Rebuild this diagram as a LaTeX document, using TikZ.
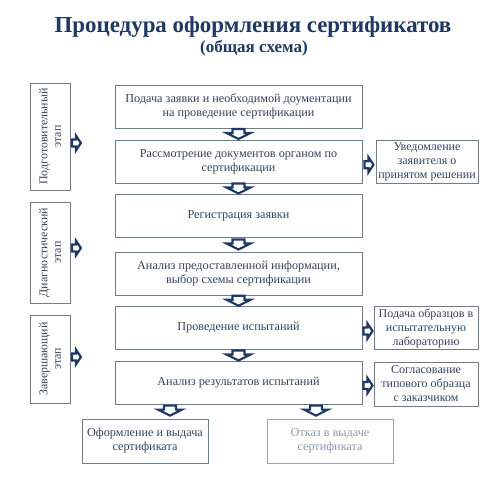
\documentclass[tikz,border=0pt]{standalone}
\usepackage{fontspec}
\setmainfont{Liberation Serif}
\usetikzlibrary{calc}
\definecolor{navy}{HTML}{1F3864}
\definecolor{txt}{HTML}{33445C}
\definecolor{edge}{HTML}{6E7F8C}
\definecolor{fadetxt}{HTML}{8C98AA}
\definecolor{fadeedge}{HTML}{9AA4AE}
\tikzset{
  mainbox/.style={draw=edge, line width=0.8pt, fill=white, text=txt, minimum width=247pt, minimum height=43pt, align=center, font=\fontsize{12.2}{14}\selectfont, inner sep=2pt},
  sidebox/.style={draw=edge, line width=0.8pt, fill=white, text=txt, minimum width=104pt, minimum height=43pt, align=center, font=\fontsize{12}{14}\selectfont, inner sep=1pt},
  endbox/.style={draw=edge, line width=0.8pt, fill=white, text=txt, minimum width=126pt, minimum height=44pt, align=center, font=\fontsize{12.2}{14}\selectfont, inner sep=2pt},
  stagebox/.style={draw=edge, line width=0.8pt, fill=white, text=txt, minimum height=40pt, rotate=90, align=center, font=\fontsize{11.9}{13.5}\selectfont, inner sep=1pt},
  darrow/.pic={\draw[draw=navy, fill=white, line width=2.2pt, line join=miter] (-6,-5) -- (6,-5) -- (6,-1) -- (12,-1) -- (0,5) -- (-12,-1) -- (-6,-1) -- cycle;},
  rarrow/.pic={\draw[draw=navy, fill=white, line width=2.2pt, line join=miter] (-4.5,-3.5) -- (-0.5,-3.5) -- (-0.5,-7.5) -- (4.5,0) -- (-0.5,7.5) -- (-0.5,3.5) -- (-4.5,3.5) -- cycle;}
}
\begin{document}
\begin{tikzpicture}[x=1pt,y=-1pt]
\useasboundingbox (0,0) rectangle (500,488);
\fill[white] (0,0) rectangle (500,488);
% title
\node[text=navy, font=\fontsize{22.9}{24}\selectfont\bfseries] (title) at (253,27) {Процедура оформления сертификатов};
\node[text=navy, font=\fontsize{17}{18}\selectfont\bfseries] (subtitle) at (254,48) {(общая схема)};
% main boxes
\node[mainbox] (b1) at (238.5,106.5) {Подача заявки и необходимой доументации\\на проведение сертификации};
\node[mainbox] (b2) at (238.5,161.5) {Рассмотрение документов органом по\\сертификации};
\node[mainbox] (b3) at (238.5,215.5) {Регистрация заявки};
\node[mainbox] (b4) at (238.5,273.5) {Анализ предоставленной информации,\\выбор схемы сертификации};
\node[mainbox] (b5) at (238.5,328) {Проведение испытаний};
\node[mainbox] (b6) at (238.5,383) {Анализ результатов испытаний};
% bottom boxes
\node[endbox] (e1) at (145,441) {Оформление и выдача\\сертификата};
\node[endbox, draw=fadeedge, text=fadetxt] (e2) at (330,441) {Отказ в выдаче\\сертификата};
% side boxes
\node[sidebox, minimum width=102pt] (r1) at (427,162) {Уведомление\\заявителя о\\принятом решении};
\node[sidebox] (r2) at (426,328) {Подача образцов в\\испытательную\\лабораторию};
\node[sidebox, minimum height=44pt] (r3) at (426,384) {Согласование\\типового образца\\с заказчиком};
% stage boxes
\node[stagebox, minimum width=107pt] (s1) at (50,136.5) {Подготовительный\\этап};
\node[stagebox, minimum width=101pt] (s2) at (50,252.5) {Диагностический\\этап};
\node[stagebox, minimum width=88pt] (s3) at (50,359) {Завершающий\\этап};
% down arrows
\pic at ($(b1.south)!0.5!(b2.north)$) {darrow};
\pic at ($(b2.south)!0.5!(b3.north)$) {darrow};
\pic at ($(b3.south)!0.5!(b4.north)$) {darrow};
\pic at ($(b4.south)!0.5!(b5.north)$) {darrow};
\pic at ($(b5.south)!0.5!(b6.north)$) {darrow};
\pic at ($(e1.north)+(25,-8)$) {darrow};
\pic at ($(e2.north)+(-14,-8)$) {darrow};
% right arrows
\pic at ($(b2.east)!0.5!(r1.west)+(0,3)$) {rarrow};
\pic at ($(b5.east)!0.5!(r2.west)+(0,3)$) {rarrow};
\pic at ($(b6.east)!0.5!(r3.west)+(0,2)$) {rarrow};
% left arrows
\pic at ($(s1.south)+(6,6.5)$) {rarrow};
\pic at ($(s2.south)+(6,-4.5)$) {rarrow};
\pic at ($(s3.south)+(6,-2)$) {rarrow};
\end{tikzpicture}
\end{document}
